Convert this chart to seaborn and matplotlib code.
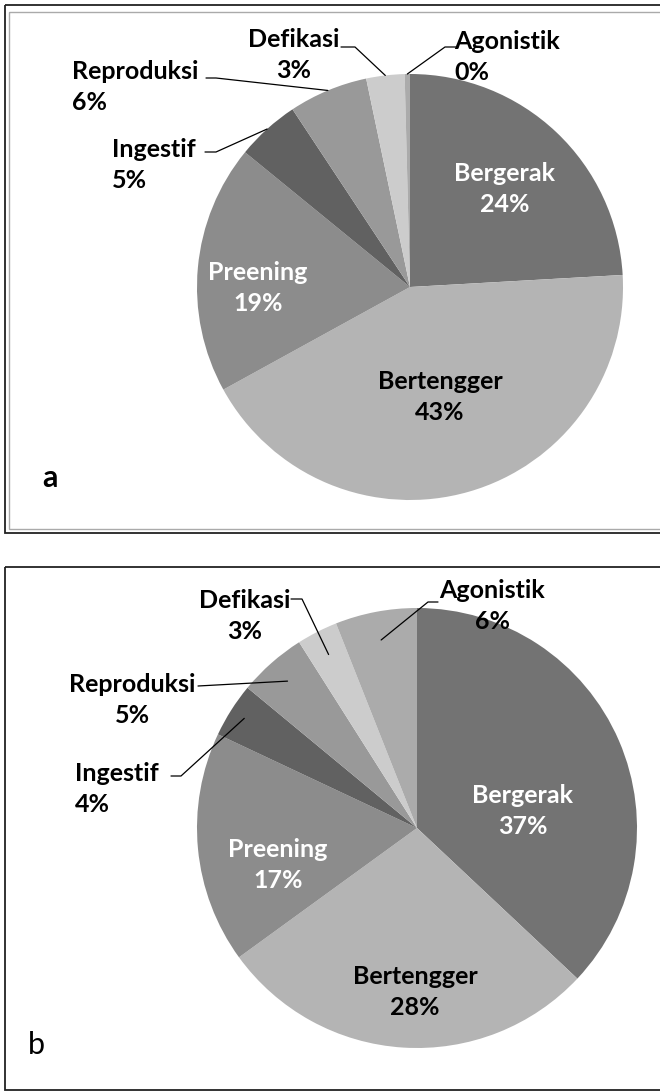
import matplotlib
matplotlib.use("Agg")
import matplotlib.pyplot as plt
from matplotlib.patches import Rectangle
import numpy as np
import seaborn as sns

# ---------------- data ----------------
categories = ["Bergerak", "Bertengger", "Preening", "Ingestif", "Reproduksi", "Defikasi", "Agonistik"]
values_a = [24.1, 42.9, 18.9, 4.8, 6.0, 2.9, 0.4]
values_b = [37.0, 28.0, 17.0, 4.0, 5.0, 3.0, 6.0]
panel_letters = ["a", "b"]
slice_colors = ["#737373", "#b4b4b4", "#8c8c8c", "#616161", "#999999", "#cccccc", "#ababab"]
label_colors = ["white", "black", "white", "black", "black", "black", "black"]

# ---------------- layout (pixel coords) ----------------
W, H = 660, 1091
pie_geom = [((410, 287), 213), ((417, 828), 220)]
# label anchor: (x, y, ha)
label_pos = [
    [(505, 189, "center"), (440, 397, "center"), (258, 288, "center"),
     (112, 165, "left"), (72, 87, "left"), (294, 55, "center"), (454, 57, "left")],
    [(523, 811, "center"), (415, 992, "center"), (278, 865, "center"),
     (75, 789, "left"), (132, 700, "center"), (245, 616, "center"), (492, 606, "center")],
]
# leader elbows: category index -> list of points from label side to the elbow
leaders = [
    {3: [(205, 152), (216, 152)], 4: [(206, 78), (216, 78)],
     5: [(341, 47), (355, 47)], 6: [(456, 47), (445, 47)]},
    {3: [(171, 776), (181, 776)], 4: [(198, 686)],
     5: [(291, 599), (302, 599)], 6: [(438, 602), (428, 602)]},
]
leader_r = [{3: 1.0, 4: 1.0, 5: 1.0, 6: 1.0}, {3: 0.93, 4: 0.89, 5: 0.885, 6: 0.87}]
frames = [(5, 5, 670, 528), (5, 567, 670, 523)]
letter_pos = [(50, 478, "bold", 22), (36, 1045, "normal", 22)]

sns.set_style("white")
plt.rcParams["font.family"] = ["Lato", "DejaVu Sans"]

fig = plt.figure(figsize=(W / 100, H / 100), dpi=100)
ax = fig.add_axes([0, 0, 1, 1])

for p, vals in enumerate([values_a, values_b]):
    center, radius = pie_geom[p]
    wedges, _ = ax.pie(vals, colors=slice_colors, startangle=-90, counterclock=True,
                       center=center, radius=radius,
                       wedgeprops=dict(linewidth=0))
    total = sum(vals)
    for i, cat in enumerate(categories):
        x, y, ha = label_pos[p][i]
        pct = round(vals[i] / total * 100)
        ax.text(x, y, f"{cat}\n{pct}%", ha=ha, va="center", multialignment=ha,
                fontsize=18, fontweight="bold", color=label_colors[i], linespacing=1.45)
    for i, pts in leaders[p].items():
        w = wedges[i]
        mid = np.deg2rad((w.theta1 + w.theta2) / 2)
        r = radius * leader_r[p][i]
        end = (center[0] + r * np.cos(mid), center[1] + r * np.sin(mid))
        xs = [q[0] for q in pts] + [end[0]]
        ys = [q[1] for q in pts] + [end[1]]
        ax.plot(xs, ys, color="black", lw=0.9)

for (fx, fy, fw, fh) in frames:
    ax.add_patch(Rectangle((fx, fy), fw, fh, fill=False, edgecolor="#222222", lw=1.3, clip_on=False))
ax.add_patch(Rectangle((9, 12), 660, 517, fill=False, edgecolor="#aaaaaa", lw=1.0, clip_on=False))

for letter, (x, y, wt, fs) in zip(panel_letters, letter_pos):
    ax.text(x, y, letter, ha="center", va="center", fontsize=fs, fontweight=wt, color="black")

ax.set_xlim(0, W)
ax.set_ylim(H, 0)
ax.set_aspect("auto")
ax.axis("off")
fig.savefig("out.png", dpi=100, facecolor="white")
